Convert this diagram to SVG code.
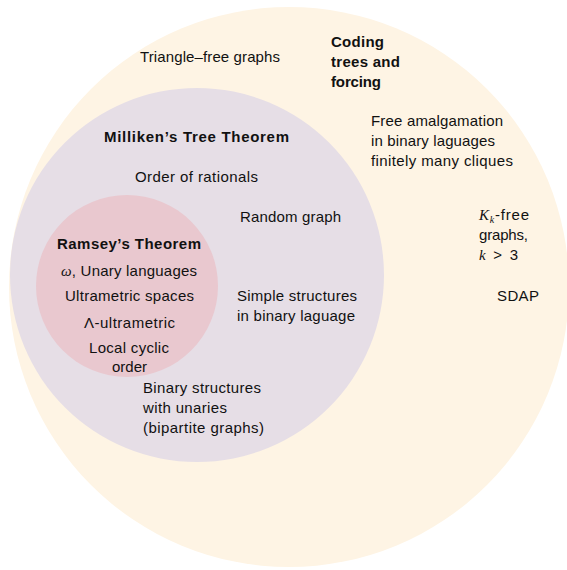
<svg xmlns="http://www.w3.org/2000/svg" width="567" height="570" viewBox="0 0 567 570">
  <style>
    text { font-family: "Liberation Sans", Arial, sans-serif; font-size: 15px; fill: #111111; }
    .b { font-weight: bold; }
    .m { font-style: italic; font-family: "Liberation Serif", serif; }
    .outer { fill: #FEF4E4; }
    .mid { fill: #E6DEE6; }
    .inner { fill: #E9C8CF; }
  </style>
  <rect width="567" height="570" fill="#ffffff"/>

  <!-- Outer region: coding trees and forcing -->
  <g id="coding-trees">
    <circle class="outer" cx="289" cy="287" r="280"/>
    <text class="b" x="331" y="47" textLength="53">Coding</text>
    <text class="b" x="331" y="67" textLength="69">trees and</text>
    <text class="b" x="331" y="87" textLength="50">forcing</text>
    <text x="140" y="62" textLength="140">Triangle–free graphs</text>
    <text x="371" y="126" textLength="132">Free amalgamation</text>
    <text x="371" y="146" textLength="124">in binary laguages</text>
    <text x="371" y="166" textLength="142">finitely many cliques</text>
    <text x="479" y="220" textLength="50"><tspan class="m">K</tspan><tspan class="m" font-size="10" dy="3">k</tspan><tspan dy="-3">-free</tspan></text>
    <text x="479" y="240" textLength="49">graphs,</text>
    <text x="479" y="260" textLength="39"><tspan class="m">k</tspan> &gt; 3</text>
    <text x="497" y="301" textLength="42">SDAP</text>
  </g>

  <!-- Middle region: Milliken's tree theorem -->
  <g id="milliken">
    <circle class="mid" cx="197" cy="275" r="187"/>
    <text class="b" x="104" y="142" textLength="185">Milliken’s Tree Theorem</text>
    <text x="135" y="182" textLength="123">Order of rationals</text>
    <text x="240" y="222" textLength="101">Random graph</text>
    <text x="237" y="301" textLength="120">Simple structures</text>
    <text x="237" y="321" textLength="118">in binary laguage</text>
    <text x="143" y="393" textLength="118">Binary structures</text>
    <text x="143" y="413" textLength="84">with unaries</text>
    <text x="143" y="433" textLength="121">(bipartite graphs)</text>
  </g>

  <!-- Inner region: Ramsey's theorem -->
  <g id="ramsey">
    <circle class="inner" cx="127" cy="286" r="91"/>
    <text class="b" x="57" y="249" textLength="144">Ramsey’s Theorem</text>
    <text x="61" y="276" textLength="136"><tspan class="m">ω</tspan>, Unary languages</text>
    <text x="65" y="301" textLength="129">Ultrametric spaces</text>
    <text x="84" y="328" textLength="91">Λ-ultrametric</text>
    <text x="89" y="353" textLength="80">Local cyclic</text>
    <text x="112" y="372" textLength="35">order</text>
  </g>
</svg>
